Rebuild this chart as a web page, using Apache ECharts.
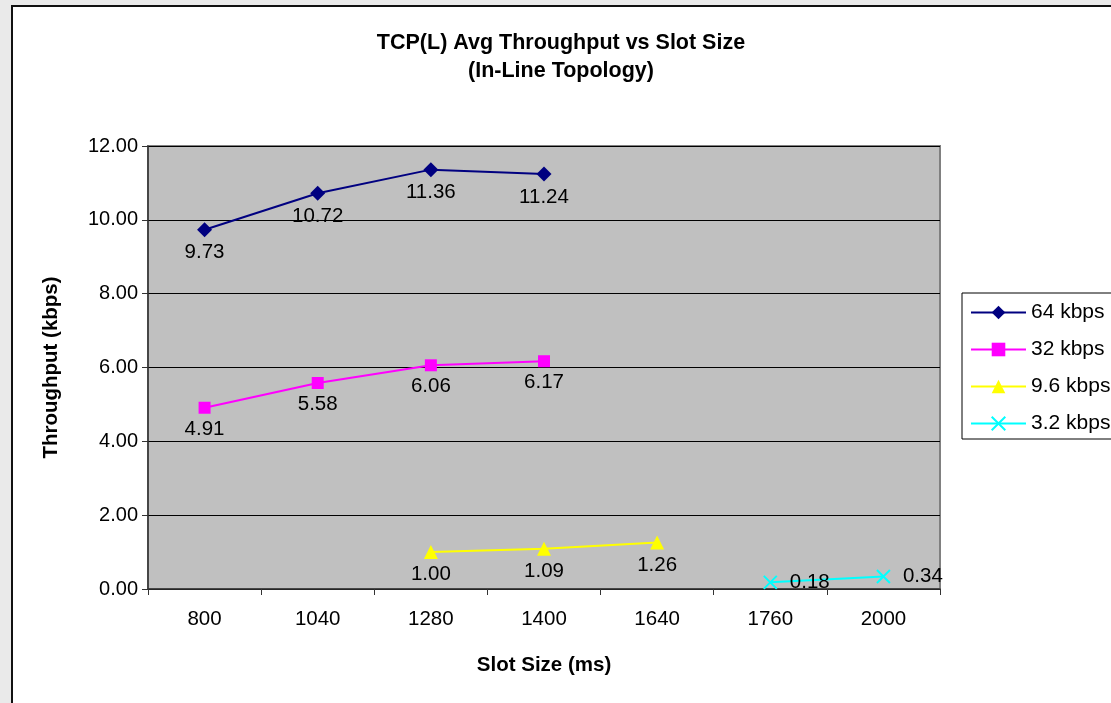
<!DOCTYPE html>
<html>
<head>
<meta charset="utf-8">
<script src="https://cdn.jsdelivr.net/npm/echarts@6/dist/echarts.min.js"></script>
<style>
  html, body { margin: 0; padding: 0; background: #EAEAEA; }
  #frame { position: absolute; left: 11px; top: 5px; width: 1120px; height: 720px; background: #fff; border-left: 2px solid #111; border-top: 2px solid #111; }
  #chart { position: absolute; left: 0; top: 0; width: 1111px; height: 703px; }
</style>
</head>
<body>
<div id="frame"></div>
<div id="chart"></div>
<script>
const categories = ['800', '1040', '1280', '1400', '1640', '1760', '2000'];
const seriesNames = ['64 kbps', '32 kbps', '9.6 kbps', '3.2 kbps'];
const s64 = [9.73, 10.72, 11.36, 11.24, null, null, null];
const s32 = [4.91, 5.58, 6.06, 6.17, null, null, null];
const s96 = [null, null, 1.00, 1.09, 1.26, null, null];
const s32b = [null, null, null, null, null, 0.18, 0.34];

const FONT = 'Liberation Sans, Arial, sans-serif';
const fmt = p => (p.value == null ? '' : Number(p.value).toFixed(2));

function mk(name, data, color, symbol, size, labelPos, labelDist, extraItem) {
  return {
    name: name,
    type: 'line',
    data: data,
    connectNulls: false,
    symbol: symbol,
    symbolSize: size,
    lineStyle: { color: color, width: 2 },
    itemStyle: Object.assign({ color: color }, extraItem || {}),
    label: {
      show: true, position: labelPos, distance: labelDist,
      formatter: fmt, color: '#000', fontSize: 20.5, fontFamily: FONT
    },
    emphasis: { disabled: true },
    animation: false
  };
}

const chart = echarts.init(document.getElementById('chart'), null, { renderer: 'canvas' });
chart.setOption({
  backgroundColor: 'transparent',
  animation: false,
  title: {
    text: 'TCP(L) Avg Throughput vs Slot Size\n(In-Line Topology)',
    left: 556, textAlign: 'center', top: 24,
    textStyle: { fontFamily: FONT, fontSize: 21.5, fontWeight: 'bold', color: '#000', lineHeight: 28 }
  },
  legend: {
    orient: 'vertical',
    left: 962, top: 293,
    padding: [9, 30, 5, 8],
    itemWidth: 55, itemHeight: 17, itemGap: 16,
    borderColor: '#000', borderWidth: 1,
    backgroundColor: '#fff',
    lineStyle: { width: 2 },
    textStyle: { fontFamily: FONT, fontSize: 21, color: '#000' },
    data: seriesNames
  },
  grid: {
    left: 148, right: 171, top: 146, bottom: 114,
    show: true, backgroundColor: '#C0C0C0', borderColor: '#808080', borderWidth: 2
  },
  xAxis: {
    type: 'category',
    data: categories,
    boundaryGap: true,
    name: 'Slot Size (ms)',
    nameLocation: 'middle', nameGap: 66,
    nameTextStyle: { fontFamily: FONT, fontSize: 20.5, fontWeight: 'bold', color: '#000' },
    axisLine: { lineStyle: { color: '#333', width: 1.5 } },
    axisTick: { show: true, inside: false, length: 6, alignWithLabel: false, lineStyle: { color: '#333' } },
    axisLabel: { interval: 0, margin: 20, fontFamily: FONT, fontSize: 20.5, color: '#000' },
    splitLine: { show: false }
  },
  yAxis: {
    type: 'value',
    min: 0, max: 12, interval: 2,
    name: 'Throughput (kbps)',
    nameLocation: 'middle', nameGap: 86,
    nameTextStyle: { fontFamily: FONT, fontSize: 20.5, fontWeight: 'bold', color: '#000' },
    axisLine: { show: true, lineStyle: { color: '#333', width: 1.5 } },
    axisTick: { show: true, length: 6, lineStyle: { color: '#333' } },
    axisLabel: { margin: 10, fontFamily: FONT, fontSize: 20, color: '#000', formatter: v => v.toFixed(2) },
    splitLine: { show: true, lineStyle: { color: '#000', width: 1 } }
  },
  series: [
    mk(seriesNames[0], s64, '#000080', 'diamond', 15, 'bottom', 5),
    mk(seriesNames[1], s32, '#FF00FF', 'rect', 12, 'bottom', 5),
    mk(seriesNames[2], s96, '#FFFF00', 'triangle', 14, 'bottom', 5),
    mk(seriesNames[3], s32b, '#00FFFF', 'path://M0,0L10,10M10,0L0,10', 13, 'right', 12,
       { borderColor: '#00FFFF', borderWidth: 2 })
  ]
});
</script>
</body>
</html>
